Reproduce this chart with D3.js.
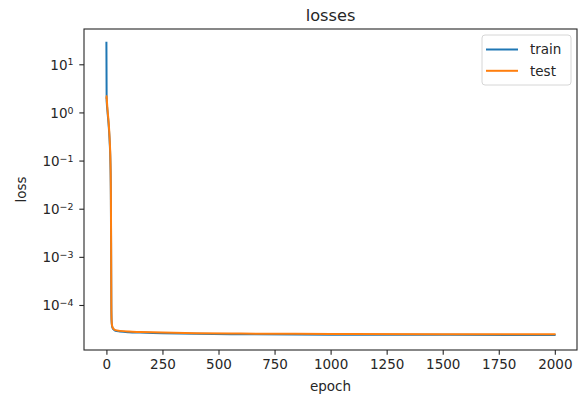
<!DOCTYPE html>
<html>
<head>
<meta charset="utf-8">
<script src="https://cdn.jsdelivr.net/npm/d3@7"></script>
<style>
  html, body { margin: 0; padding: 0; background: #fff; }
  svg { display: block; font-family: "DejaVu Sans", sans-serif; }
</style>
</head>
<body>
<svg id="chart" width="584" height="398"></svg>
<script>
// ---- data ----
const title = "losses";
const xLabel = "epoch";
const yLabel = "loss";
const seriesNames = ["train", "test"];
const seriesColors = ["#1f77b4", "#ff7f0e"];

const trainEpochs = [0, 1, 2, 4, 6, 9, 12, 15, 18, 20, 21, 22, 23, 25, 28, 32, 40, 60, 100, 150, 250, 400, 600, 1000, 1500, 1999];
const trainLoss   = [28, 1.8, 1.5, 1.15, 0.9, 0.62, 0.4, 0.22, 0.085, 0.015, 0.0015, 9.5e-5, 4.8e-5, 3.7e-5, 3.3e-5, 3.1e-5, 2.92e-5, 2.82e-5, 2.72e-5, 2.67e-5, 2.6e-5, 2.52e-5, 2.47e-5, 2.42e-5, 2.4e-5, 2.38e-5];

const testEpochs = [0, 1, 2, 4, 6, 9, 12, 15, 18, 20, 21, 22, 23, 25, 28, 32, 40, 60, 100, 150, 250, 400, 600, 1000, 1500, 1999];
const testLoss   = [2.0, 2.2, 1.8, 1.3, 1.0, 0.7, 0.45, 0.25, 0.1, 0.02, 0.002, 1e-4, 5e-5, 3.8e-5, 3.4e-5, 3.2e-5, 3.0e-5, 2.9e-5, 2.8e-5, 2.75e-5, 2.68e-5, 2.6e-5, 2.55e-5, 2.5e-5, 2.48e-5, 2.46e-5];

const xTicks = [0, 250, 500, 750, 1000, 1250, 1500, 1750, 2000];
const yTickExps = [-4, -3, -2, -1, 0, 1];

// ---- layout ----
const mLeft = 84, mRight = 577, mTop = 29, mBottom = 350;
const svg = d3.select("#chart");

const x = d3.scaleLinear().domain([-99.95, 2098.95]).range([mLeft, mRight]);
const y = d3.scaleLog().domain([Math.pow(10, -4.935), Math.pow(10, 1.733)]).range([mBottom, mTop]);

const textColor = "#262626";
const fs = 13.5;

// clip
svg.append("defs").append("clipPath").attr("id", "clip")
  .append("rect").attr("x", mLeft).attr("y", mTop).attr("width", mRight - mLeft).attr("height", mBottom - mTop);

// lines
const series = [
  { epochs: trainEpochs, vals: trainLoss },
  { epochs: testEpochs, vals: testLoss }
];
const line = d3.line().x(d => x(d[0])).y(d => y(d[1])).curve(d3.curveMonotoneX);
series.forEach((s, i) => {
  const pts = s.epochs.map((e, j) => [e, s.vals[j]]);
  svg.append("path")
    .attr("clip-path", "url(#clip)")
    .attr("d", line(pts))
    .attr("fill", "none")
    .attr("stroke", seriesColors[i])
    .attr("stroke-width", 2)
    .attr("stroke-linejoin", "round")
    .attr("stroke-linecap", "square");
});

// axes
const xAxis = d3.axisBottom(x).tickValues(xTicks).tickSize(4.7).tickPadding(4.7).tickFormat(d3.format("d"));
const gx = svg.append("g").attr("transform", `translate(0,${mBottom})`).call(xAxis);
gx.select(".domain").remove();
gx.selectAll("line").attr("stroke", textColor).attr("stroke-width", 1.1);
gx.selectAll("text").attr("fill", textColor).attr("font-size", fs).attr("font-family", "DejaVu Sans");

const yAxis = d3.axisLeft(y).tickValues(yTickExps.map(e => Math.pow(10, e))).tickSize(4.7).tickPadding(4.7).tickFormat("");
const gy = svg.append("g").attr("transform", `translate(${mLeft},0)`).call(yAxis);
gy.select(".domain").remove();
gy.selectAll("line").attr("stroke", textColor).attr("stroke-width", 1.1);
gy.selectAll(".tick").each(function(d) {
  const e = Math.round(Math.log10(d));
  const t = d3.select(this).append("text")
    .attr("x", -10.5).attr("y", 0).attr("dy", "0.36em")
    .attr("text-anchor", "end")
    .attr("fill", textColor).attr("font-size", fs).attr("font-family", "DejaVu Sans");
  t.append("tspan").text("10");
  t.append("tspan").attr("dy", "-0.45em").attr("font-size", fs * 0.7)
    .text(e < 0 ? "\u2212" + Math.abs(e) : String(e));
});

// frame
svg.append("rect").attr("x", mLeft).attr("y", mTop).attr("width", mRight - mLeft).attr("height", mBottom - mTop)
  .attr("fill", "none").attr("stroke", textColor).attr("stroke-width", 1.1);

// title & labels
svg.append("text").attr("x", (mLeft + mRight) / 2).attr("y", 21).attr("text-anchor", "middle")
  .attr("font-size", 16.2).attr("fill", textColor).text(title);
svg.append("text").attr("x", (mLeft + mRight) / 2).attr("y", 391).attr("text-anchor", "middle")
  .attr("font-size", fs).attr("fill", textColor).text(xLabel);
svg.append("text").attr("transform", `translate(26,${(mTop + mBottom) / 2}) rotate(-90)`).attr("text-anchor", "middle")
  .attr("font-size", fs).attr("fill", textColor).text(yLabel);

// legend
const lg = svg.append("g");
lg.append("rect").attr("x", 482).attr("y", 35).attr("width", 89).attr("height", 50).attr("rx", 3)
  .attr("fill", "#fff").attr("fill-opacity", 0.8).attr("stroke", "#d6d6d6").attr("stroke-width", 1);
seriesNames.forEach((name, i) => {
  const cy = 49.5 + i * 21.3;
  lg.append("line").attr("x1", 486).attr("x2", 518).attr("y1", cy).attr("y2", cy)
    .attr("stroke", seriesColors[i]).attr("stroke-width", 2);
  lg.append("text").attr("x", 530).attr("y", cy).attr("dy", "0.36em")
    .attr("font-size", fs).attr("fill", textColor).text(name);
});
</script>
</body>
</html>
